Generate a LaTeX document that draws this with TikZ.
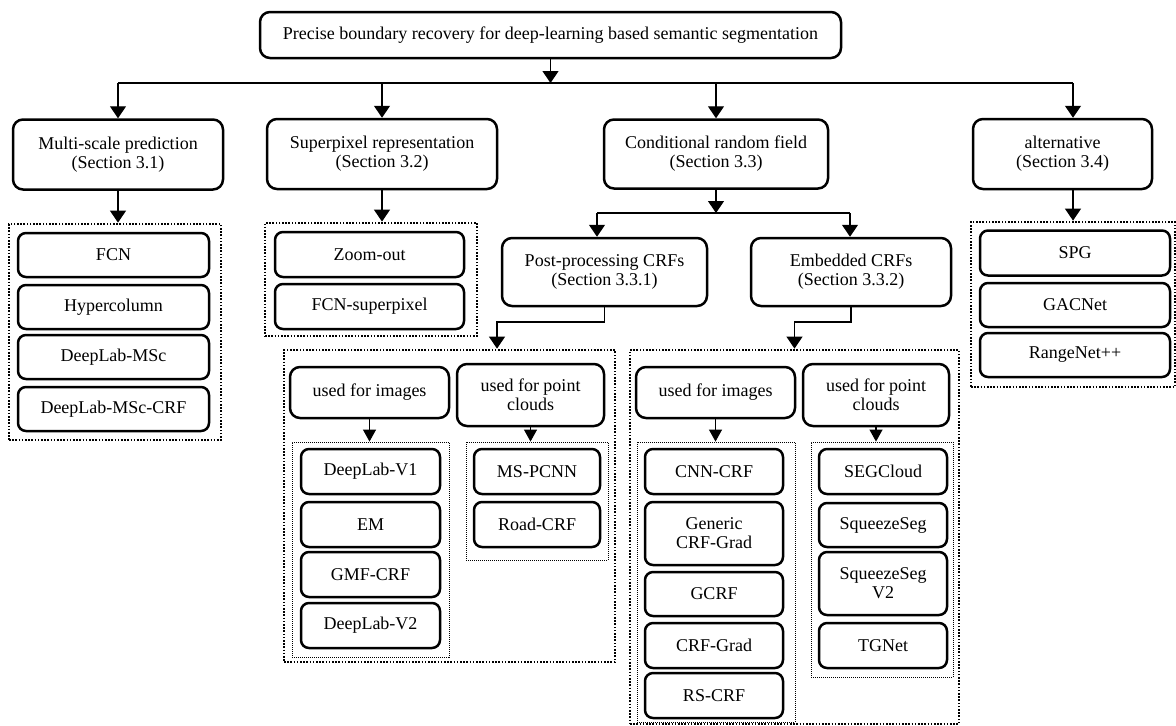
\documentclass[tikz,border=0pt]{standalone}
\usepackage{fontspec}
\setmainfont{Liberation Serif}
\usetikzlibrary{arrows.meta}
\begin{document}
\begin{tikzpicture}[x=0.5pt,y=-0.5pt]
\tikzset{
 box/.style={draw, line width=1.25pt, rounded corners=5pt, align=center, inner sep=0pt, font=\fontsize{9}{9.5}\selectfont},
 item/.style={box, rounded corners=4pt},
 grp/.style={draw, line width=1.4pt, dash pattern=on 0.8pt off 0.8pt, inner sep=0pt},
 sub/.style={draw, line width=0.45pt, dash pattern=on 0.5pt off 0.5pt, inner sep=0pt},
 link/.style={line width=0.6pt},
 arr/.style={link, -{Triangle[width=8pt,length=6pt]}},
 arrs/.style={link, -{Triangle[width=6.5pt,length=6pt]}},
}
\useasboundingbox (0,0) rectangle (1176,725);

% top
\node[box, minimum width=290.5pt, minimum height=23pt] (T) at (550.5,35) {Precise boundary recovery for deep-learning based semantic segmentation};

% level 1
\node[box, minimum width=105pt, minimum height=35pt] (M) at (118,154.5) {Multi-scale prediction\\(Section 3.1)};
\node[box, minimum width=115pt, minimum height=35pt] (S) at (382,154) {Superpixel representation\\(Section 3.2)};
\node[box, minimum width=112pt, minimum height=34.5pt] (C) at (716,154) {Conditional random field\\(Section 3.3)};
\node[box, minimum width=89.5pt, minimum height=35pt] (A) at (1062.5,154) {alternative\\(Section 3.4)};

% groups
\node[grp, minimum width=106pt, minimum height=108pt] (D1) at (115,332) {};
\node[grp, minimum width=106pt, minimum height=56.5pt] (D2) at (371,279.5) {};
\node[grp, minimum width=102pt, minimum height=82.5pt] (RB) at (1073,304.5) {};
\node[grp, minimum width=165.5pt, minimum height=156pt] (PB) at (449.5,506) {};
\node[grp, minimum width=164.5pt, minimum height=187pt] (EB) at (794.5,537) {};
\node[sub, minimum width=78.5pt, minimum height=107.5pt] (PIB) at (370.5,549.5) {};
\node[sub, minimum width=71pt, minimum height=59pt] (PPB) at (537,501) {};
\node[sub, minimum width=79pt, minimum height=140pt] (EIB) at (716,582) {};
\node[sub, minimum width=71pt, minimum height=117.5pt] (EPB) at (882,559.5) {};

% multi-scale items
\node[item, minimum width=95.5pt, minimum height=22pt] (m1) at (113.5,255) {FCN};
\node[item, minimum width=95.5pt, minimum height=22pt] (m2) at (113.5,307) {Hypercolumn};
\node[item, minimum width=95.5pt, minimum height=22pt] (m3) at (113.5,357) {DeepLab-MSc};
\node[item, minimum width=95.5pt, minimum height=22pt] (m4) at (113.5,409) {DeepLab-MSc-CRF};

% superpixel items
\node[item, minimum width=94.5pt, minimum height=22.5pt] (s1) at (369.5,254.5) {Zoom-out};
\node[item, minimum width=94.5pt, minimum height=22.5pt] (s2) at (369.5,306.5) {FCN-superpixel};

% alternative items
\node[item, minimum width=95pt, minimum height=22.5pt] (a1) at (1075,253) {SPG};
\node[item, minimum width=95pt, minimum height=22pt] (a2) at (1075,305) {GACNet};
\node[item, minimum width=95pt, minimum height=22pt] (a3) at (1075,355) {RangeNet++};

% CRF sub-branches
\node[box, minimum width=102.5pt, minimum height=34pt] (P) at (604.5,272) {Post-processing CRFs\\(Section 3.3.1)};
\node[box, minimum width=100pt, minimum height=34pt] (E) at (851,272) {Embedded CRFs\\(Section 3.3.2)};

\node[box, minimum width=79.5pt, minimum height=25.5pt] (PI) at (369.5,392.5) {used for images};
\node[box, minimum width=73.5pt, minimum height=31pt] (PP) at (530.5,395) {used for point\\clouds};
\node[box, minimum width=79.5pt, minimum height=25.5pt] (EI) at (715.5,392.5) {used for images};
\node[box, minimum width=73pt, minimum height=31pt] (EP) at (876,395) {used for point\\clouds};

% post-processing items
\node[item, minimum width=69.5pt, minimum height=22.5pt] (p1) at (370.5,471.5) {DeepLab-V1};
\node[item, minimum width=69.5pt, minimum height=22.5pt] (p2) at (370.5,524.5) {EM};
\node[item, minimum width=69.5pt, minimum height=22.5pt] (p3) at (370.5,574.5) {GMF-CRF};
\node[item, minimum width=69.5pt, minimum height=22.5pt] (p4) at (370.5,625.5) {DeepLab-V2};
\node[item, minimum width=63pt, minimum height=22.5pt] (q1) at (537,471.5) {MS-PCNN};
\node[item, minimum width=63pt, minimum height=22.5pt] (q2) at (537,524.5) {Road-CRF};

% embedded items
\node[item, minimum width=69pt, minimum height=22.5pt] (e1) at (714,471.5) {CNN-CRF};
\node[item, minimum width=69pt, minimum height=31.5pt] (e2) at (714,533.5) {Generic\\CRF-Grad};
\node[item, minimum width=69pt, minimum height=22pt] (e3) at (714,594) {GCRF};
\node[item, minimum width=69pt, minimum height=22.5pt] (e4) at (714,645.5) {CRF-Grad};
\node[item, minimum width=69pt, minimum height=22.5pt] (e5) at (714,695.5) {RS-CRF};
\node[item, minimum width=64pt, minimum height=22.5pt] (f1) at (883,471.5) {SEGCloud};
\node[item, minimum width=64pt, minimum height=22pt] (f2) at (883,525) {SqueezeSeg};
\node[item, minimum width=64pt, minimum height=31.5pt] (f3) at (883,583.5) {SqueezeSeg\\V2};
\node[item, minimum width=64pt, minimum height=22.5pt] (f4) at (883,645.5) {TGNet};

% connectors
\coordinate (busL) at (118,83);
\coordinate (busR) at (1073,83);
\draw[link] (busL) -- (busR);
\draw[arr] (T.south) -- (T.south |- busL);
\draw[arr] (busL) -- (M.north);
\draw[arr] (S.north |- busL) -- (S.north);
\draw[arr] (C.north |- busL) -- (C.north);
\draw[arr] (busR) -- (busR |- A.north);

\draw[arr] (M.south) -- (M.south |- D1.north);
\draw[arr] (S.south) -- (S.south |- D2.north);
\draw[arr] (RB.north |- A.south) -- (RB.north);

\coordinate (splitL) at (597,213);
\coordinate (splitR) at (850,213);
\draw[arr] (C.south) -- (C.south |- splitL);
\draw[link] (splitL) -- (splitR);
\draw[arr] (splitL) -- (splitL |- P.north);
\draw[arr] (splitR) -- (splitR |- E.north);

\coordinate (pk) at (497,322);
\coordinate (ek) at (794.5,322);
\draw[arr] (P.south) |- (pk) -- (pk |- PB.north);
\draw[arr] (E.south) |- (ek) -- (EB.north);

\draw[arrs] (PI.south) -- (PI.south |- PIB.north);
\draw[arrs] (PP.south) -- (PP.south |- PPB.north);
\draw[arrs] (EI.south) -- (EI.south |- EIB.north);
\draw[arrs] (EP.south) -- (EP.south |- EPB.north);
\end{tikzpicture}
\end{document}
